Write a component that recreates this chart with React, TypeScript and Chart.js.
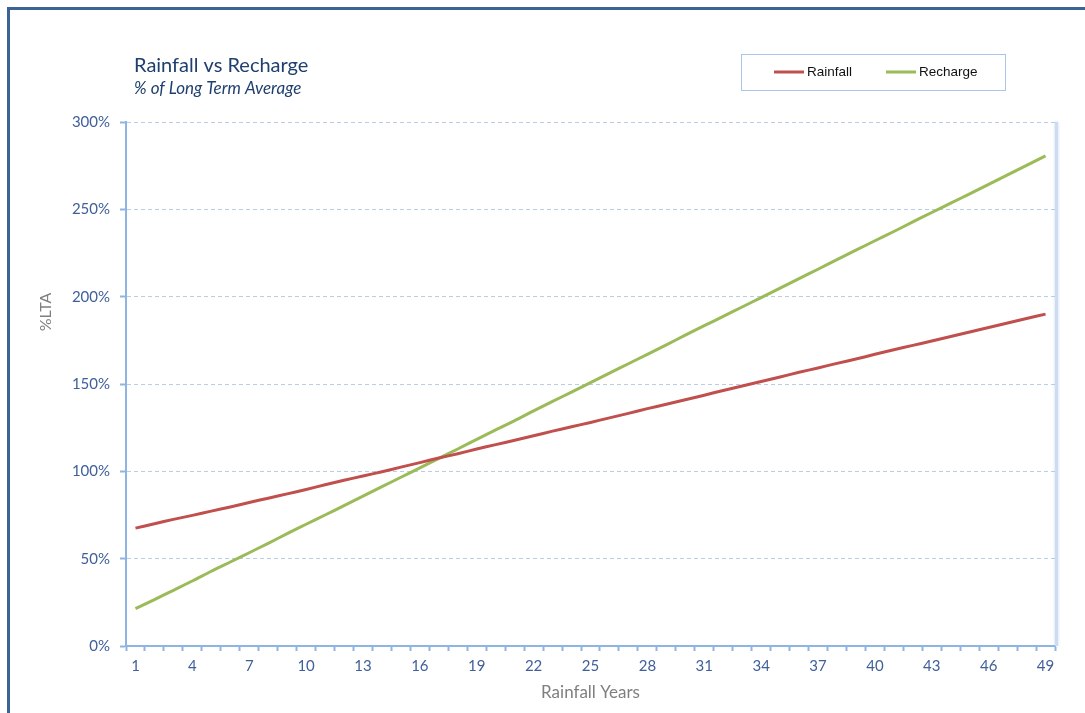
import React, { useEffect, useRef } from "react";
import { Chart, registerables } from "chart.js";

Chart.register(...registerables);

// Rainfall years 1..49
const years: string[] = Array.from({ length: 49 }, (_, i) => String(i + 1));

// % of long term average
const rainfall: number[] = [
  67.5, 70.0, 72.5, 74.8, 77.2, 79.6, 82.2, 84.6, 87.1, 89.6,
  92.3, 94.9, 97.3, 99.8, 102.4, 105.0, 107.6, 110.1, 112.8, 115.3,
  117.8, 120.4, 123.0, 125.5, 128.0, 130.6, 133.2, 135.9, 138.4, 141.0,
  143.6, 146.3, 148.9, 151.4, 154.0, 156.7, 159.2, 161.8, 164.3, 167.0,
  169.6, 172.1, 174.6, 177.2, 179.8, 182.3, 184.9, 187.5, 190.0,
];

const recharge: number[] = [
  21.4, 26.6, 31.9, 37.2, 42.8, 48.1, 53.4, 58.8, 64.3, 69.7,
  75.0, 80.4, 85.8, 91.2, 96.6, 102.0, 107.4, 112.8, 118.3, 123.7,
  129.0, 134.6, 140.0, 145.4, 150.8, 156.2, 161.6, 167.0, 172.4, 178.0,
  183.4, 188.7, 194.1, 199.5, 204.9, 210.3, 215.7, 221.2, 226.6, 232.0,
  237.3, 242.8, 248.2, 253.5, 258.9, 264.3, 269.7, 275.2, 280.6,
];

const titleText = "Rainfall vs Recharge";
const subtitleText = "% of Long Term Average";
const yTitle = "%LTA";
const xTitle = "Rainfall Years";

const RED = "#c0504d";
const GREEN = "#9bbb59";
const AXIS = "#8eb4e3";
const GRID = "#b9cde8";
const TICK_TEXT = "#40609a";
const NAVY = "#1f3f6e";
const FONT = "Lato, 'Open Sans', sans-serif";

// Frame, headings, legend box and the plot's right edge
const decorations = {
  id: "decorations",
  beforeDraw(chart: any) {
    const { ctx } = chart;
    ctx.save();
    ctx.fillStyle = "#ffffff";
    ctx.fillRect(0, 0, chart.width, chart.height);
    ctx.fillStyle = "#3b6395";
    ctx.fillRect(7, 7, 3, chart.height);
    ctx.fillRect(7, 7, chart.width, 3);
    ctx.restore();
  },
  afterDraw(chart: any) {
    const { ctx, chartArea } = chart;
    ctx.save();
    // right edge of the plot area
    ctx.shadowColor = "rgba(160,190,235,0.6)";
    ctx.shadowBlur = 3;
    ctx.strokeStyle = "#cddcf2";
    ctx.lineWidth = 3;
    ctx.beginPath();
    ctx.moveTo(chartArea.right + 1.5, chartArea.top);
    ctx.lineTo(chartArea.right + 1.5, chartArea.bottom);
    ctx.stroke();
    ctx.shadowBlur = 0;
    ctx.shadowColor = "transparent";

    // headings
    ctx.fillStyle = NAVY;
    ctx.textBaseline = "alphabetic";
    ctx.textAlign = "left";
    ctx.font = `20px ${FONT}`;
    ctx.fillText(titleText, 134, 72);
    ctx.font = `italic 17px ${FONT}`;
    ctx.fillText(subtitleText, 134, 94);

    // y axis title
    ctx.save();
    ctx.translate(46, 312);
    ctx.rotate(-Math.PI / 2);
    ctx.fillStyle = "#7f7f7f";
    ctx.font = `16px ${FONT}`;
    ctx.textAlign = "center";
    ctx.textBaseline = "middle";
    ctx.fillText(yTitle, 0, 0);
    ctx.restore();

    // legend
    ctx.strokeStyle = "#a9c5ec";
    ctx.lineWidth = 1;
    ctx.strokeRect(741.5, 54.5, 264, 36);
    const items = chart.data.datasets;
    const xs = [774, 886];
    ctx.font = "13.5px 'Liberation Sans', Arial, sans-serif";
    ctx.textBaseline = "middle";
    ctx.textAlign = "left";
    items.forEach((ds: any, i: number) => {
      ctx.strokeStyle = ds.borderColor;
      ctx.lineWidth = 3;
      ctx.beginPath();
      ctx.moveTo(xs[i], 72);
      ctx.lineTo(xs[i] + 30, 72);
      ctx.stroke();
      ctx.fillStyle = "#111111";
      ctx.fillText(ds.label, xs[i] + 33, 72);
    });
    ctx.restore();
  },
};

export default function App() {
  const ref = useRef<HTMLCanvasElement>(null);

  useEffect(() => {
    if (!ref.current) return;
    const chart = new Chart(ref.current, {
      type: "line",
      data: {
        labels: years,
        datasets: [
          {
            label: "Rainfall",
            data: rainfall,
            borderColor: RED,
            backgroundColor: RED,
            borderWidth: 3,
            pointRadius: 0,
            tension: 0.3,
          },
          {
            label: "Recharge",
            data: recharge,
            borderColor: GREEN,
            backgroundColor: GREEN,
            borderWidth: 3,
            pointRadius: 0,
            tension: 0.3,
          },
        ],
      },
      options: {
        responsive: false,
        animation: false,
        layout: { padding: { top: 122, right: 30, left: 0, bottom: 0 } },
        plugins: {
          legend: { display: false },
          title: { display: false },
          tooltip: { enabled: false },
        },
        scales: {
          x: {
            type: "category",
            offset: true,
            afterFit: (s: any) => {
              s.height = 67;
            },
            grid: {
              offset: true,
              drawOnChartArea: false,
              drawTicks: true,
              tickLength: 5,
              tickColor: AXIS,
              tickWidth: 2,
              tickBorderDash: [],
            },
            border: { display: true, color: AXIS, width: 2 },
            ticks: {
              autoSkip: false,
              maxRotation: 0,
              minRotation: 0,
              padding: 6,
              color: TICK_TEXT,
              font: { family: FONT, size: 15 },
              callback: (_v: any, i: number) => (i % 3 === 0 ? years[i] : ""),
            },
            title: {
              display: true,
              text: xTitle,
              color: "#7f7f7f",
              font: { family: FONT, size: 17 },
              padding: { top: 0, bottom: 10 },
            },
          },
          y: {
            min: 0,
            max: 300,
            afterFit: (s: any) => {
              s.width = 126;
            },
            grid: {
              color: (c: any) => (c.tick && c.tick.value === 0 ? "rgba(0,0,0,0)" : GRID),
              lineWidth: 1,
              drawTicks: true,
              tickLength: 6,
              tickColor: AXIS,
              tickWidth: 2,
              tickBorderDash: [],
            },
            border: { display: true, color: AXIS, width: 2, dash: [4, 3] },
            ticks: {
              stepSize: 50,
              padding: 10,
              color: TICK_TEXT,
              font: { family: FONT, size: 15 },
              callback: (v: any) => `${v}%`,
            },
          },
        },
      },
      plugins: [decorations],
    });
    return () => chart.destroy();
  }, []);

  return (
    <div
      style={{
        position: "fixed",
        left: 0,
        top: 0,
        width: 1085,
        height: 713,
        overflow: "hidden",
        background: "#fff",
      }}
    >
      <canvas
        ref={ref}
        width={1085}
        height={713}
        style={{ display: "block", width: 1085, height: 713 }}
      />
    </div>
  );
}
